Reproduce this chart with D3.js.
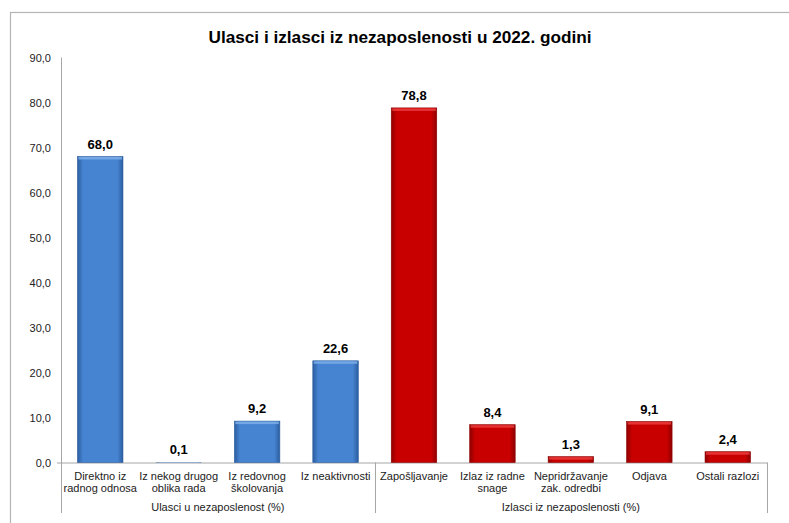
<!DOCTYPE html>
<html>
<head>
<meta charset="utf-8">
<script src="https://cdn.jsdelivr.net/npm/d3@7/dist/d3.min.js"></script>
<style>
  html, body { margin: 0; padding: 0; background: #fff; }
  svg { display: block; font-family: "Liberation Sans", Arial, sans-serif; }
</style>
</head>
<body>
<svg id="chart" width="789" height="523"></svg>
<script>
const title = "Ulasci i izlasci iz nezaposlenosti u 2022. godini";
const categories = [
  ["Direktno iz", "radnog odnosa"],
  ["Iz nekog drugog", "oblika rada"],
  ["Iz redovnog", "školovanja"],
  ["Iz neaktivnosti"],
  ["Zapošljavanje"],
  ["Izlaz iz radne", "snage"],
  ["Nepridržavanje", "zak. odredbi"],
  ["Odjava"],
  ["Ostali razlozi"]
];
const values = [68.0, 0.1, 9.2, 22.6, 78.8, 8.4, 1.3, 9.1, 2.4];
const groupOf = [0, 0, 0, 0, 1, 1, 1, 1, 1];
const groups = ["Ulasci u nezaposlenost (%)", "Izlasci iz nezaposlenosti (%)"];
const yTicks = [0, 10, 20, 30, 40, 50, 60, 70, 80, 90];

(function () {
const svg = d3.select("#chart");
const pLeft = 61, pRight = 767, pTop = 57.5, pBottom = 462.5;

const defs = svg.append("defs");
const sh = defs.append("filter").attr("id", "sh").attr("x", "-5%").attr("y", "-5%").attr("width", "110%").attr("height", "110%");
sh.append("feDropShadow").attr("dx", 1).attr("dy", 1).attr("stdDeviation", 1.2).attr("flood-color", "#000").attr("flood-opacity", 0.18);
svg.append("rect").attr("x", 10.5).attr("y", 12.5).attr("width", 800).attr("height", 530)
  .attr("fill", "#fff").attr("stroke", "#b5b5b5").attr("stroke-width", 1.2).attr("filter", "url(#sh)");

const palettes = [
  { edge: "#2b5d9f", mid: "#4683d0", top: "#7fb0ea" },
  { edge: "#8f0000", mid: "#c80000", top: "#ee4040" }
];
palettes.forEach((p, i) => {
  const g = defs.append("linearGradient").attr("id", "g" + i).attr("x1", "0").attr("x2", "1").attr("y1", "0").attr("y2", "0");
  g.append("stop").attr("offset", "0").attr("stop-color", p.edge);
  g.append("stop").attr("offset", "0.12").attr("stop-color", p.mid);
  g.append("stop").attr("offset", "0.88").attr("stop-color", p.mid);
  g.append("stop").attr("offset", "1").attr("stop-color", p.edge);
});

const x = d3.scaleBand().domain(d3.range(categories.length)).range([pLeft, pRight])
  .paddingInner(0.42).paddingOuter(0.21);
const y = d3.scaleLinear().domain([0, 90]).range([pBottom, pTop]);

svg.append("text").attr("x", 400).attr("y", 43).attr("text-anchor", "middle")
  .attr("font-size", 17.2).attr("font-weight", "bold").attr("fill", "#000").text(title);

const yAxis = d3.axisLeft(y).tickValues(yTicks).tickSize(0).tickPadding(10)
  .tickFormat(d => d3.format(".1f")(d).replace(".", ","));
const ya = svg.append("g").attr("transform", `translate(${pLeft},0)`).call(yAxis);
ya.select(".domain").remove();
ya.selectAll("text").attr("font-size", 11).attr("fill", "#222").attr("font-family", "Liberation Sans, Arial, sans-serif");

const axisColor = "#a6a6a6";
svg.append("line").attr("x1", pLeft + 0.5).attr("x2", pLeft + 0.5).attr("y1", pTop).attr("y2", 513).attr("stroke", axisColor);
svg.append("line").attr("x1", pLeft - 4).attr("x2", pRight + 0.5).attr("y1", pBottom + 0.5).attr("y2", pBottom + 0.5).attr("stroke", axisColor);

const groupIdx = groups.map((g, gi) => d3.range(categories.length).filter(i => groupOf[i] === gi));
groupIdx.forEach((idx, gi) => {
  const gx0 = x(idx[0]) - x.step() * x.paddingInner() / 2;
  const gx1 = x(idx[idx.length - 1]) + x.bandwidth() + x.step() * x.paddingInner() / 2;
  svg.append("line").attr("x1", Math.round(gx1) + 0.5).attr("x2", Math.round(gx1) + 0.5)
    .attr("y1", pBottom).attr("y2", 513).attr("stroke", axisColor);
  svg.append("text").attr("x", (Math.max(gx0, pLeft) + Math.min(gx1, pRight)) / 2).attr("y", 511)
    .attr("text-anchor", "middle").attr("font-size", 11).attr("fill", "#222").text(groups[gi]);
});

const cl = svg.append("g").selectAll("text").data(categories).join("text")
  .attr("x", (d, i) => x(i) + x.bandwidth() / 2).attr("y", 480)
  .attr("text-anchor", "middle").attr("font-size", 11).attr("fill", "#222");
cl.each(function (d) {
  const tx = d3.select(this).attr("x");
  d3.select(this).selectAll("tspan").data(d).join("tspan")
    .attr("x", tx).attr("dy", (t, j) => j === 0 ? 0 : 12).text(t => t);
});

const bars = svg.append("g").selectAll("g").data(values).join("g");
bars.append("rect")
  .attr("x", (d, i) => x(i)).attr("width", x.bandwidth())
  .attr("y", d => y(d)).attr("height", d => pBottom - y(d))
  .attr("fill", (d, i) => `url(#g${groupOf[i]})`)
  .attr("stroke", (d, i) => (pBottom - y(d)) > 2 ? palettes[groupOf[i]].edge : "none").attr("stroke-width", 0.6);
bars.append("rect")
  .attr("x", (d, i) => x(i) + 1).attr("width", x.bandwidth() - 2)
  .attr("y", d => y(d) + 0.5).attr("height", d => Math.min(2.5, Math.max(0, pBottom - y(d) - 1)))
  .attr("fill", (d, i) => palettes[groupOf[i]].top).attr("opacity", 0.8);

svg.append("g").selectAll("text").data(values).join("text")
  .attr("x", (d, i) => x(i) + x.bandwidth() / 2).attr("y", d => y(d) - 8)
  .attr("text-anchor", "middle").attr("font-size", 13).attr("font-weight", "bold").attr("fill", "#000")
  .text(d => d3.format(".1f")(d).replace(".", ","));
})();
</script>
</body>
</html>
